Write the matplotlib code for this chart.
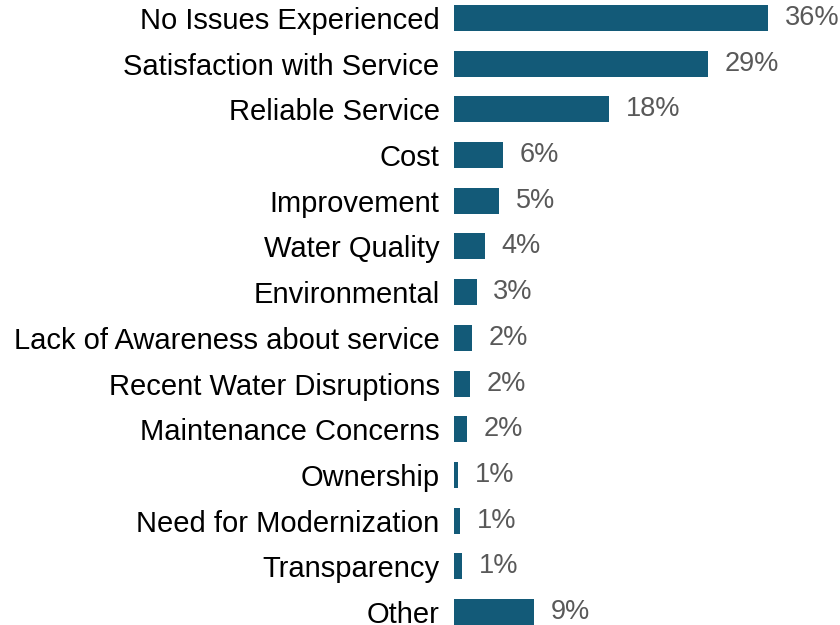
import matplotlib.pyplot as plt

categories = [
    "No Issues Experienced",
    "Satisfaction with Service",
    "Reliable Service",
    "Cost",
    "Improvement",
    "Water Quality",
    "Environmental",
    "Lack of Awareness about service",
    "Recent Water Disruptions",
    "Maintenance Concerns",
    "Ownership",
    "Need for Modernization",
    "Transparency",
    "Other",
]
shares = [36.0, 29.1, 17.8, 5.7, 5.2, 3.6, 2.65, 2.1, 1.9, 1.5, 0.55, 0.75, 0.97, 9.2]

bar_color = "#135a78"

plt.rcParams["font.family"] = ["Liberation Sans", "DejaVu Sans"]

fig = plt.figure(figsize=(8.4, 6.25), dpi=100)
ax = fig.add_axes([453.5 / 840, 0, 1 - 453.5 / 840, 1])

y = range(len(categories))
ax.barh(y, shares, height=0.57, color=bar_color)

# percentage labels just right of each bar
for yi, v in zip(y, shares):
    ax.annotate(f"{v:.0f}%", (v, yi), xytext=(12, 0), textcoords="offset points",
                va="center", ha="left", fontsize=19.5, color="#595959",
                annotation_clip=False)

ax.set_yticks(list(y))
ax.set_yticklabels(categories, fontsize=21, color="black")
ax.tick_params(axis="y", length=0, pad=10)
ax.set_xticks([])
ax.set_xlim(0, 386.5 / 8.74)
ax.set_ylim(13 + 13 / 45.7, -18 / 45.7)
for s in ax.spines.values():
    s.set_visible(False)

fig.savefig("out.png", dpi=100)
